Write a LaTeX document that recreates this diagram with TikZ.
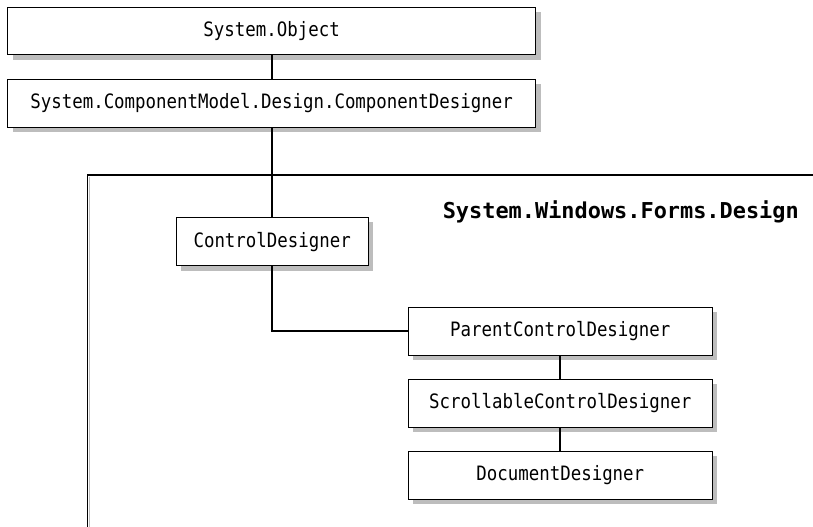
\documentclass[tikz,border=0pt]{standalone}
\usepackage{fontspec}
\newfontfamily\dmono[FakeStretch=0.88]{DejaVu Sans Mono}
\newfontfamily\dmonotitle[FakeStretch=1.0]{DejaVu Sans Mono}
\usetikzlibrary{shadows}
\definecolor{shadowgray}{HTML}{BDBDBD}
\tikzset{
  clsbox/.style={draw=black, line width=1bp, fill=white, inner sep=0pt,
    minimum height=48bp, font=\dmono\fontsize{19.8bp}{22bp}\selectfont,
    drop shadow={shadow xshift=5bp, shadow yshift=-5bp, fill=shadowgray, opacity=1}},
  conn/.style={line width=2bp, draw=black},
  frameline/.style={line width=1.3bp, draw=black}
}
\begin{document}
\begin{tikzpicture}[x=1bp, y=-1bp]
\useasboundingbox (0,0) rectangle (813,527);
% namespace frame
\draw[line width=1.3bp, shadowgray] (89.3,177) -- (89.3,527);
\draw[frameline] (813,175) -- (87.5,175) -- (87.5,527);
\node[anchor=base east, font=\dmonotitle\bfseries\fontsize{21.9bp}{24bp}\selectfont, inner sep=0pt] (ns) at (799,219) {System.Windows.Forms.Design};
% class boxes
\node[clsbox, minimum width=528bp, minimum height=47.5bp] (obj) at (271.6,30.8) {System.Object};
\node[clsbox, minimum width=528bp] (comp) at (271.6,103.3) {System.ComponentModel.Design.ComponentDesigner};
\node[clsbox, minimum width=192bp, minimum height=48.5bp] (ctl) at (272.2,241.6) {ControlDesigner};
\node[clsbox, minimum width=304bp] (par) at (560.3,331.3) {ParentControlDesigner};
\node[clsbox, minimum width=304bp] (scr) at (560.3,403.3) {ScrollableControlDesigner};
\node[clsbox, minimum width=304bp] (doc) at (560.3,475.3) {DocumentDesigner};
% connectors
\draw[conn] (obj.south -| ctl.north) -- (comp.north -| ctl.north);
\draw[conn] (comp.south -| ctl.north) -- (ctl.north);
\draw[conn] (ctl.south) |- (par.west);
\draw[conn] (par.south) -- (scr.north);
\draw[conn] (scr.south) -- (doc.north);
\end{tikzpicture}
\end{document}
